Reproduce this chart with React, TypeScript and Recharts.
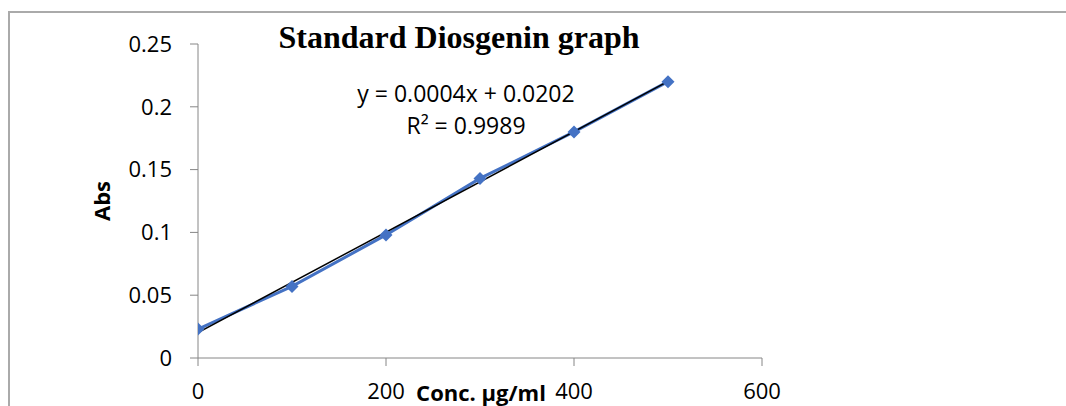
import { LineChart, Line, XAxis, YAxis } from "recharts";

// standard curve readings
const concentrations = [0, 100, 200, 300, 400, 500];
const absorbance = [0.023, 0.057, 0.098, 0.143, 0.18, 0.22];

// linear trendline ends (y = 0.0004x + 0.0202)
const trendX = [0, 500];
const trendY = [0.0202, 0.2202];

const xTicks = [0, 200, 400, 600];
const yTicks = [0, 0.05, 0.1, 0.15, 0.2, 0.25];

const W = 1066;
const H = 406;
const BLUE = "#4472C4";
const AXIS = "#868686";
const SANS = "'Open Sans', sans-serif";

const points = concentrations.map((x, i) => ({ x, y: absorbance[i] }));
const trend = trendX.map((x, i) => ({ x, y: trendY[i] }));

function Diamond(props: any) {
  const { cx, cy } = props;
  if (cx == null || cy == null) return null;
  const r = 6.5;
  return (
    <polygon
      points={`${cx},${cy - r} ${cx + r},${cy} ${cx},${cy + r} ${cx - r},${cy}`}
      fill={BLUE}
    />
  );
}

const tickStyle = { fontFamily: SANS, fontSize: 22, fill: "#000" };

export default function App() {
  return (
    <div
      style={{
        position: "fixed",
        left: 0,
        top: 0,
        width: W,
        height: H,
        background: "#fff",
        overflow: "hidden",
      }}
    >
      <style>{"html,body{margin:0;overflow:hidden}"}</style>
      {/* frame of the figure box: top and left edges only */}
      <div
        style={{
          position: "absolute",
          left: 8,
          top: 11,
          width: 1066,
          height: 2,
          background: "#aaa",
        }}
      />
      <div
        style={{
          position: "absolute",
          left: 8,
          top: 11,
          width: 2,
          height: 400,
          background: "#aaa",
        }}
      />
      <div style={{ position: "absolute", left: 0, top: 0 }}>
        <LineChart
          width={W}
          height={H}
          margin={{ top: 44, right: 304, left: 138, bottom: 18 }}
        >
          <XAxis
            type="number"
            dataKey="x"
            domain={[0, 600]}
            ticks={xTicks}
            height={30}
            stroke={AXIS}
            tickSize={8}
            tickMargin={17}
            tick={tickStyle}
            allowDataOverflow
          />
          <YAxis
            type="number"
            dataKey="y"
            domain={[0, 0.25]}
            ticks={yTicks}
            width={60}
            stroke={AXIS}
            tickSize={8}
            tickMargin={18}
            tick={tickStyle}
            allowDataOverflow
          />
          <Line
            data={points}
            dataKey="y"
            stroke={BLUE}
            strokeWidth={3}
            dot={<Diamond />}
            activeDot={false}
            isAnimationActive={false}
          />
          <Line
            data={trend}
            dataKey="y"
            stroke="#000"
            strokeWidth={1.5}
            dot={false}
            activeDot={false}
            isAnimationActive={false}
          />
        </LineChart>
      </div>

      <div
        style={{
          position: "absolute",
          left: 459,
          top: 37,
          transform: "translate(-50%, -50%)",
          fontFamily: "'Liberation Serif', serif",
          fontWeight: "bold",
          fontSize: 32,
          whiteSpace: "nowrap",
        }}
      >
        Standard Diosgenin graph
      </div>

      <div
        style={{
          position: "absolute",
          left: 466,
          top: 109,
          transform: "translate(-50%, -50%)",
          fontFamily: SANS,
          fontSize: 23,
          lineHeight: "32px",
          textAlign: "center",
          whiteSpace: "nowrap",
        }}
      >
        <div>y = 0.0004x + 0.0202</div>
        <div>R² = 0.9989</div>
      </div>

      <div
        style={{
          position: "absolute",
          left: 481,
          top: 392,
          transform: "translate(-50%, -50%)",
          fontFamily: SANS,
          fontWeight: "bold",
          fontSize: 22,
          lineHeight: "22px",
          whiteSpace: "nowrap",
        }}
      >
        Conc. µg/ml
      </div>

      <div
        style={{
          position: "absolute",
          left: 101,
          top: 201,
          transform: "translate(-50%, -50%) rotate(-90deg)",
          fontFamily: SANS,
          fontWeight: "bold",
          fontSize: 22,
          lineHeight: "22px",
          whiteSpace: "nowrap",
        }}
      >
        Abs
      </div>
    </div>
  );
}
